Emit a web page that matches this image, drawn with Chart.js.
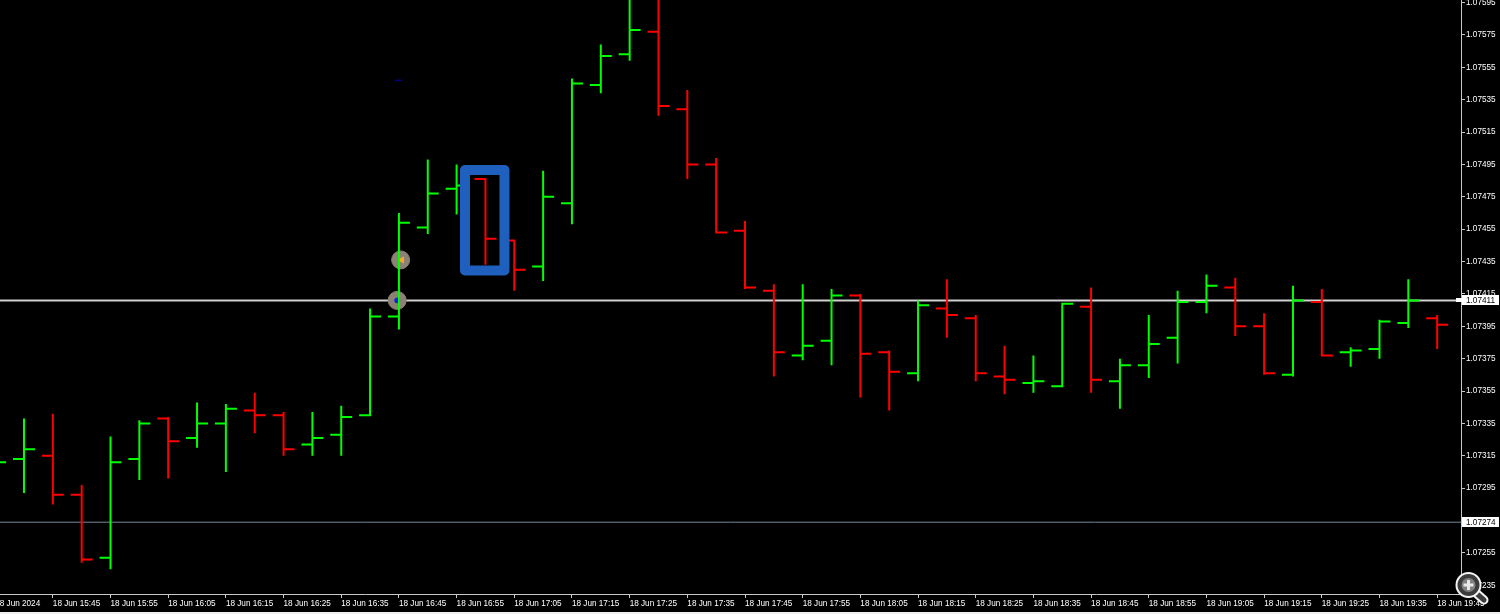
<!DOCTYPE html>
<html lang="en">

<head>
    <meta charset="UTF-8">
    <title>EURUSD M5 bars</title>
    <script src="https://cdn.jsdelivr.net/npm/chart.js"></script>
    <style>
        html, body {
            margin: 0;
            height: 614px;
            overflow: hidden;
            background: #f0f0f0;
        }

        canvas {
            display: block;
        }
    </style>
</head>

<body>
    <canvas id="priceChart" width="1500" height="612"></canvas>

    <script>
        // 5 minute bars, one entry per bar, 18 Jun 15:35 onwards
        const opens = [1.07307, 1.07313, 1.07315, 1.07291, 1.07252, 1.07313, 1.07338, 1.07326, 1.07335, 1.07343, 1.07340,
            1.07322, 1.07328, 1.07340, 1.07401, 1.07456, 1.07480, 1.07486, 1.07448, 1.07432, 1.07471,
            1.07544, 1.07563, 1.07577, 1.07529, 1.07495, 1.07454, 1.07417, 1.07377, 1.07386, 1.07414,
            1.07379, 1.07366, 1.07406, 1.07400, 1.07364, 1.07360, 1.07358, 1.07407, 1.07361, 1.07371,
            1.07388, 1.07410, 1.07419, 1.07395, 1.07365, 1.07410, 1.07379, 1.07381, 1.07397, 1.07400];
        const highs = [1.07318, 1.07338, 1.07341, 1.07297, 1.07327, 1.07337, 1.07339, 1.07348, 1.07347, 1.07354, 1.07342,
            1.07342, 1.07346, 1.07406, 1.07465, 1.07498, 1.07495, 1.07486, 1.07448, 1.07491, 1.07548,
            1.07569, 1.07600, 1.07605, 1.07541, 1.07499, 1.07460, 1.07421, 1.07421, 1.07418, 1.07415,
            1.07380, 1.07411, 1.07424, 1.07402, 1.07383, 1.07377, 1.07409, 1.07419, 1.07375, 1.07402,
            1.07417, 1.07427, 1.07425, 1.07403, 1.07420, 1.07418, 1.07382, 1.07399, 1.07424, 1.07402];
        const lows = [1.07302, 1.07292, 1.07285, 1.07249, 1.07245, 1.07300, 1.07301, 1.07320, 1.07305, 1.07329, 1.07315,
            1.07315, 1.07315, 1.07340, 1.07393, 1.07452, 1.07464, 1.07433, 1.07417, 1.07423, 1.07458,
            1.07539, 1.07559, 1.07525, 1.07486, 1.07453, 1.07418, 1.07364, 1.07374, 1.07371, 1.07351,
            1.07343, 1.07361, 1.07388, 1.07361, 1.07353, 1.07354, 1.07358, 1.07354, 1.07344, 1.07363,
            1.07372, 1.07403, 1.07389, 1.07365, 1.07364, 1.07377, 1.07370, 1.07375, 1.07394, 1.07381];
        const closes = [1.07311, 1.07319, 1.07291, 1.07251, 1.07311, 1.07335, 1.07324, 1.07335, 1.07344, 1.07340, 1.07319,
            1.07326, 1.07339, 1.07401, 1.07459, 1.07477, 1.07482, 1.07449, 1.07430, 1.07475, 1.07545,
            1.07562, 1.07578, 1.07531, 1.07495, 1.07453, 1.07419, 1.07379, 1.07383, 1.07414, 1.07378,
            1.07367, 1.07408, 1.07402, 1.07366, 1.07362, 1.07361, 1.07409, 1.07362, 1.07371, 1.07384,
            1.07410, 1.07420, 1.07395, 1.07366, 1.07411, 1.07377, 1.07380, 1.07398, 1.07411, 1.07396];

        // bottom axis labels, every second bar
        const timeLabels = ['18 Jun 2024', '18 Jun 15:45', '18 Jun 15:55', '18 Jun 16:05', '18 Jun 16:15', '18 Jun 16:25',
            '18 Jun 16:35', '18 Jun 16:45', '18 Jun 16:55', '18 Jun 17:05', '18 Jun 17:15', '18 Jun 17:25', '18 Jun 17:35',
            '18 Jun 17:45', '18 Jun 17:55', '18 Jun 18:05', '18 Jun 18:15', '18 Jun 18:25', '18 Jun 18:35', '18 Jun 18:45',
            '18 Jun 18:55', '18 Jun 19:05', '18 Jun 19:15', '18 Jun 19:25', '18 Jun 19:35', '18 Jun 19:45'];

        const priceTicks = [1.07595, 1.07575, 1.07555, 1.07535, 1.07515, 1.07495, 1.07475, 1.07455, 1.07435, 1.07415,
            1.07395, 1.07375, 1.07355, 1.07335, 1.07315, 1.07295, 1.07275, 1.07255, 1.07235];

        const bidPrice = 1.07411;
        const levelPrice = 1.07274;
        const highlightBar = { from: 16.29, to: 17.66, top: 1.074915, bottom: 1.074295 };

        // visible window of the chart
        const xMin = 0.168, xMax = 50.826;
        const yMin = 1.0722965, yMax = 1.0759654;
        const tickLen = 0.38;

        const FONT = { family: '"Liberation Sans", Arial, sans-serif', size: 8.2 };

        function barPaths(up) {
            const pts = [];
            opens.forEach((o, i) => {
                if ((closes[i] >= o) !== up) return;
                pts.push({ x: i - tickLen, y: o }, { x: i, y: o }, { x: i, y: highs[i] }, { x: i, y: lows[i] },
                    { x: i, y: closes[i] }, { x: i + tickLen, y: closes[i] }, { x: i, y: null });
            });
            return pts;
        }

        function hLine(price, color, width, order) {
            return {
                type: 'line', data: [{ x: xMin, y: price }, { x: xMax, y: price }],
                borderColor: color, borderWidth: width, pointRadius: 0, order: order
            };
        }

        function marker(x, y, style, radius, color, order, rotation) {
            return {
                type: 'scatter', data: [{ x: x, y: y }], pointStyle: style, pointRadius: radius,
                pointRotation: rotation || 0, backgroundColor: color, borderColor: color, pointBorderWidth: 1, order: order
            };
        }

        // chart area has to run to the canvas edges, labels may hang over
        function noPadding(scale) {
            scale.paddingLeft = 0;
            scale.paddingRight = 0;
            scale.paddingTop = 0;
            scale.paddingBottom = 0;
        }

        // price labels, highlight frame and the zoom icon go on top of everything
        const overlay = {
            id: 'overlay',
            afterDraw(chart) {
                const c = chart.ctx, x = chart.scales.x, y = chart.scales.y;

                c.save();
                c.strokeStyle = '#1f5fbd';
                c.lineWidth = 10;
                c.lineJoin = 'round';
                const fx = x.getPixelForValue(highlightBar.from), tx = x.getPixelForValue(highlightBar.to);
                const fy = y.getPixelForValue(highlightBar.top), by = y.getPixelForValue(highlightBar.bottom);
                c.strokeRect(fx, fy, tx - fx, by - fy);
                c.restore();

                [bidPrice, levelPrice].forEach((p) => {
                    const py = Math.round(y.getPixelForValue(p));
                    c.fillStyle = '#ffffff';
                    c.fillRect(1462, py - 5, 37, 10);
                    c.fillStyle = '#000000';
                    c.font = '8.2px "Liberation Sans", Arial, sans-serif';
                    c.textBaseline = 'middle';
                    c.textAlign = 'left';
                    c.fillText(p.toFixed(5), 1466, py + 0.5);
                });
                const stubY = Math.round(y.getPixelForValue(bidPrice));
                c.fillStyle = '#ffffff';
                c.fillRect(1456, stubY - 2, 6, 4);

                // zoom icon
                c.save();
                c.lineCap = 'round';
                c.strokeStyle = '#f4f4f4';
                c.lineWidth = 9;
                c.beginPath(); c.moveTo(1476, 593); c.lineTo(1484, 600); c.stroke();
                c.strokeStyle = '#3c3c3c';
                c.lineWidth = 5;
                c.beginPath(); c.moveTo(1476, 593); c.lineTo(1484, 600); c.stroke();
                c.fillStyle = '#f4f4f4';
                c.beginPath(); c.arc(1468.5, 585, 13, 0, Math.PI * 2); c.fill();
                c.fillStyle = '#3c3c3c';
                c.beginPath(); c.arc(1468.5, 585, 11, 0, Math.PI * 2); c.fill();
                c.fillStyle = '#808080';
                c.beginPath(); c.arc(1468.5, 585, 7, 0, Math.PI * 2); c.fill();
                c.fillStyle = '#e8e8e8';
                c.fillRect(1463.5, 583.5, 10, 3);
                c.fillRect(1467, 580, 3, 10);
                c.restore();
            }
        };

        const chartCtx = document.getElementById('priceChart').getContext('2d');
        const priceChart = new Chart(chartCtx, {
            data: {
                datasets: [
                    { type: 'line', data: barPaths(true), borderColor: '#00ff00', borderWidth: 2, pointRadius: 0, spanGaps: false, order: 3 },
                    { type: 'line', data: barPaths(false), borderColor: '#ff0000', borderWidth: 2, pointRadius: 0, spanGaps: false, order: 3 },
                    marker(14.06, 1.07436, 'circle', 9, '#8b8174', 5),
                    marker(13.94, 1.07411, 'circle', 9, '#8b8174', 5),
                    marker(14.10, 1.07436, 'triangle', 3.5, '#f0a830', 4, 270),
                    marker(13.94, 1.07411, 'circle', 2.5, '#1020e0', 4),
                    marker(13.98, 1.07547, 'line', 3.5, '#0000cd', 4),
                    hLine(bidPrice, '#d0d0d0', 2, 6),
                    hLine(levelPrice, '#778899', 1, 6)
                ]
            },
            options: {
                responsive: false,
                animation: false,
                events: [],
                layout: { padding: 0, autoPadding: false },
                plugins: { legend: { display: false }, tooltip: { enabled: false } },
                scales: {
                    x: {
                        type: 'linear',
                        min: xMin,
                        max: xMax,
                        afterBuildTicks(scale) {
                            scale.ticks = timeLabels.map((t, i) => ({ value: i * 2 }));
                        },
                        afterFit(scale) {
                            scale.height = 18;
                            noPadding(scale);
                        },
                        border: { display: true, color: '#c8c8c8', width: 1 },
                        grid: { drawOnChartArea: false, color: '#c8c8c8', tickLength: 4 },
                        ticks: {
                            autoSkip: false,
                            maxRotation: 0,
                            align: 'start',
                            padding: 1,
                            color: '#ffffff',
                            font: FONT,
                            callback: (v) => timeLabels[v / 2]
                        }
                    },
                    y: {
                        type: 'linear',
                        position: 'right',
                        min: yMin,
                        max: yMax,
                        afterBuildTicks(scale) {
                            scale.ticks = priceTicks.map((v) => ({ value: v }));
                        },
                        afterFit(scale) {
                            scale.width = 39;
                            noPadding(scale);
                        },
                        border: { display: true, color: '#c8c8c8', width: 1 },
                        grid: { drawOnChartArea: false, color: '#c8c8c8', tickLength: 4 },
                        ticks: {
                            autoSkip: false,
                            padding: 1,
                            color: '#ffffff',
                            font: FONT,
                            callback: (v) => v.toFixed(5)
                        }
                    }
                }
            },
            plugins: [{
                id: 'blackBg',
                beforeDraw(chart) {
                    chart.ctx.fillStyle = '#000000';
                    chart.ctx.fillRect(0, 0, chart.width, chart.height);
                }
            }, overlay]
        });
    </script>
</body>

</html>
